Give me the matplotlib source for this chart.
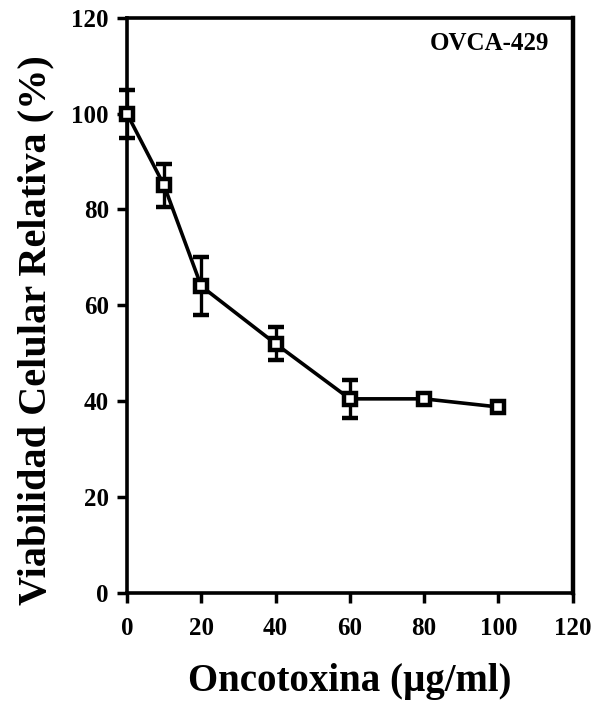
import numpy as np
import matplotlib.pyplot as plt

# Datos: viabilidad celular relativa vs. concentracion de oncotoxina
dosis = [0, 10, 20, 40, 60, 80, 100]
viabilidad = [100, 85, 64, 52, 40.5, 40.5, 38.8]
error = [5, 4.5, 6, 3.5, 4, 1, 0.6]

x_ticks = [0, 20, 40, 60, 80, 100, 120]
y_ticks = [0, 20, 40, 60, 80, 100, 120]

plt.rcParams['font.family'] = ['Liberation Serif', 'DejaVu Serif']
plt.rcParams['font.weight'] = 'bold'

fig = plt.figure(figsize=(5.96, 7.06), dpi=100)
ax = fig.add_axes([0.213, 0.160, 0.748, 0.815])

ax.errorbar(dosis, viabilidad, yerr=error, color='black', linewidth=2.6,
            elinewidth=2.4, capsize=6, capthick=2.6,
            marker='s', markersize=8, markerfacecolor='white',
            markeredgecolor='black', markeredgewidth=3.2, zorder=3,
            clip_on=False)

ax.set_xlim(0, 120)
ax.set_ylim(0, 120)
ax.set_xticks(x_ticks)
ax.set_yticks(y_ticks)
ax.tick_params(axis='both', direction='out', length=7, width=2.5,
               labelsize=18)
ax.tick_params(axis='x', pad=10)
ax.tick_params(axis='y', pad=6)
for lab in ax.get_xticklabels() + ax.get_yticklabels():
    lab.set_fontweight('bold')

for s in ['left', 'bottom', 'top']:
    ax.spines[s].set_linewidth(2.6)
ax.spines['right'].set_linewidth(3.2)

ax.set_xlabel('Oncotoxina (\u00b5g/ml)', fontsize=28, fontweight='bold',
              labelpad=17)
ax.set_ylabel('Viabilidad Celular Relativa (%)', fontsize=29,
              fontweight='bold')
ax.yaxis.set_label_coords(-0.162, 0.457)

ax.text(0.948, 0.975, 'OVCA-429', transform=ax.transAxes, ha='right',
        va='top', fontsize=18, fontweight='bold')

fig.savefig('out.png', dpi=100)
